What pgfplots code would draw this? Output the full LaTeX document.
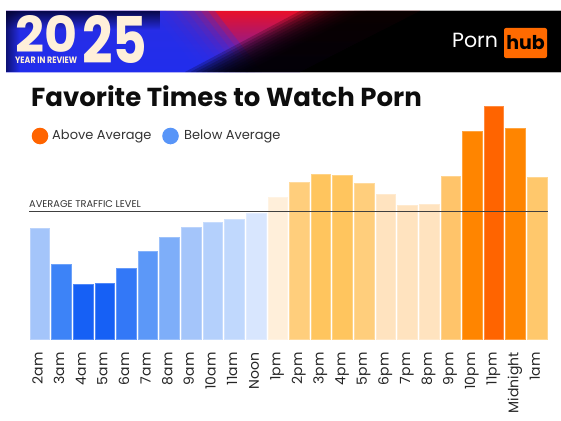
\documentclass[border=0pt]{standalone}
\usepackage{pgfplots}
\pgfplotsset{compat=1.18}
\usepackage{fontspec}
\setmainfont{Poppins}
\usetikzlibrary{fadings}
\tikzfading[name=fadeL, left color=transparent!0, right color=transparent!100]
\tikzfading[name=fadeT, top color=transparent!0, bottom color=transparent!100]
\definecolor{b1}{HTML}{A4C5FA}
\definecolor{b2}{HTML}{3D83F7}
\definecolor{b3}{HTML}{1660F5}
\definecolor{b4}{HTML}{1660F5}
\definecolor{b5}{HTML}{3378F7}
\definecolor{b6}{HTML}{5C98F8}
\definecolor{b7}{HTML}{7EAEF9}
\definecolor{b8}{HTML}{A4C5FA}
\definecolor{b9}{HTML}{B4D0FC}
\definecolor{b10}{HTML}{C0D8FD}
\definecolor{b11}{HTML}{D8E6FE}
\definecolor{o1}{HTML}{FFEFDA}
\definecolor{o2}{HTML}{FFCE7C}
\definecolor{o3}{HTML}{FFC55E}
\definecolor{o4}{HTML}{FFC55E}
\definecolor{o5}{HTML}{FFCE7C}
\definecolor{o6}{HTML}{FFE3BF}
\definecolor{o7}{HTML}{FFE3BF}
\definecolor{o8}{HTML}{FFE3BF}
\definecolor{o9}{HTML}{FFC46A}
\definecolor{o10}{HTML}{FF8500}
\definecolor{o11}{HTML}{FF6400}
\definecolor{o12}{HTML}{FF8500}
\definecolor{o13}{HTML}{FFC86C}
\definecolor{cream}{HTML}{FFF0DA}
\definecolor{bannerblue}{HTML}{2030F0}
\definecolor{bannerred}{HTML}{E8102A}
\definecolor{bannerpurple}{HTML}{5522D0}
\definecolor{phorange}{HTML}{FF6A00}
\definecolor{txt}{HTML}{333333}
\newcommand{\onebar}[2]{\addplot[fill=#1, draw=#1!75!white, line width=0.7pt] coordinates {#2};}
\begin{document}
\begin{tikzpicture}
\path[use as bounding box] (0,0) rectangle (561pt,-420pt);
\begin{scope}[x=1pt,y=-1pt]
  % banner
  \begin{scope}
    \clip (6,11) rectangle (561,72);
    \fill[black] (6,11) rectangle (561,72);
    \shade[top color=bannerred, bottom color=bannerpurple] (6,11) -- (420,11) -- (300,72) -- (6,72) -- cycle;
    \foreach \i in {0,...,9} {
      \fill[bannerblue, opacity=0.25] (6,11) -- ({215-7*\i},11) -- ({262-7*\i},72) -- (6,72) -- cycle;
    }
    \foreach \i in {0,...,11} {
      \fill[black, opacity=0.22] ({300+6*\i},11) -- (561,11) -- (561,72) -- ({185+5.5*\i},72) -- cycle;
    }
    \fill[black!85!blue, path fading=fadeT, opacity=0.8] (6,11) rectangle (160,30);
    \fill[black!85!blue, path fading=fadeL, opacity=0.6] (6,11) rectangle (20,72);
  \end{scope}
  \node[anchor=north west, inner sep=0pt, text=cream] at (15,15) {\resizebox{62pt}{37pt}{\bfseries 20}};
  \node[anchor=north west, inner sep=0pt, text=cream] at (82,15) {\resizebox{65pt}{48pt}{\bfseries 25}};
  \node[anchor=north west, inner sep=0pt, text=cream] at (15,56.5) {\resizebox{62pt}{6.5pt}{\bfseries YEAR IN REVIEW}};
  \node[anchor=base west, inner sep=0pt, text=white] at (452,48) {\fontsize{20.5}{22}\selectfont Porn};
  \fill[phorange, rounded corners=2pt] (504,28) rectangle (547,58);
  \node[anchor=base, inner sep=0pt, text=black] at (525.5,49) {\fontsize{19}{20}\selectfont\bfseries hub};
  % title
  \node[anchor=base west, inner sep=0pt, text=black!95] at (31,106.5) {\fontsize{26}{28}\selectfont\bfseries Favorite Times to Watch Porn};
  % legend
  \fill[o11] (40,136) circle (8.3);
  \node[anchor=west, inner sep=0pt, text=txt] at (52,136) {\fontsize{13}{14}\selectfont Above Average};
  \fill[b6!90!b5] (170.5,136) circle (8.3);
  \node[anchor=west, inner sep=0pt, text=txt] at (184,136) {\fontsize{13}{14}\selectfont Below Average};
\end{scope}
\begin{axis}[
  at={(29pt,-339pt)}, anchor=south west,
  scale only axis, width=519pt, height=239pt,
  xmin=-0.5, xmax=23.5, ymin=0, ymax=239,
  ybar, bar width=19.6pt, bar shift=0pt,
  axis line style={draw=none}, tick style={draw=none},
  ytick=\empty,
  xtick={0,...,23},
  xticklabels={2am,3am,4am,5am,6am,7am,8am,9am,10am,11am,Noon,1pm,2pm,3pm,4pm,5pm,6pm,7pm,8pm,9pm,10pm,11pm,Midnight,1am},
  xticklabel style={rotate=90, anchor=mid east, inner sep=0pt, font=\fontsize{14}{15}\selectfont, text=black!85},
  xticklabel shift=9pt,
  clip=false,
]
\onebar{b1}{(0,110.7)}
\onebar{b2}{(1,75)}
\onebar{b3}{(2,54.7)}
\onebar{b4}{(3,55.3)}
\onebar{b5}{(4,70.3)}
\onebar{b6}{(5,88)}
\onebar{b7}{(6,101.7)}
\onebar{b8}{(7,111.7)}
\onebar{b9}{(8,117)}
\onebar{b10}{(9,120)}
\onebar{b11}{(10,125.7)}
\onebar{o1}{(11,141.3)}
\onebar{o2}{(12,157)}
\onebar{o3}{(13,165)}
\onebar{o4}{(14,164)}
\onebar{o5}{(15,156)}
\onebar{o6}{(16,144.7)}
\onebar{o7}{(17,133.7)}
\onebar{o8}{(18,134.7)}
\onebar{o9}{(19,162.3)}
\onebar{o10}{(20,207.7)}
\onebar{o11}{(21,232.7)}
\onebar{o12}{(22,210.3)}
\onebar{o13}{(23,161.3)}
\addplot[sharp plot, draw=black!75, line width=1.4pt] coordinates {(-0.5,127.3) (23.5,127.3)};
\node[anchor=south west, inner sep=0pt, text=txt, font=\fontsize{9.8}{11}\selectfont] at (axis cs:-0.5,131) {AVERAGE TRAFFIC LEVEL};
\end{axis}
\end{tikzpicture}
\end{document}
